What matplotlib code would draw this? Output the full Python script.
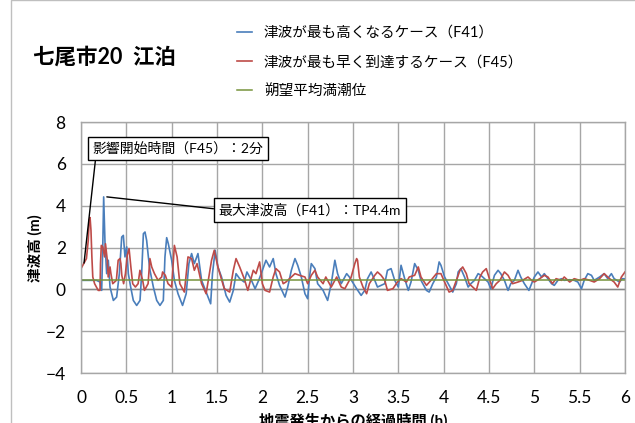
import matplotlib

matplotlib.use("Agg")

import matplotlib.pyplot as plt
import numpy as np
from matplotlib.patches import Rectangle

plt.rcParams["font.family"] = ["Lato", "Noto Sans CJK JP", "DejaVu Sans"]

# 津波が最も高くなるケース (F41): time (h), height (m)
t_f41 = [
    0.0, 0.17, 0.21, 0.228, 0.24, 0.25, 0.265, 0.283, 0.301, 0.32, 0.357, 0.393,
    0.423, 0.449, 0.467, 0.485, 0.504, 0.522, 0.548, 0.577, 0.614, 0.651, 0.669,
    0.688, 0.706, 0.724, 0.743, 0.761, 0.798, 0.835, 0.871, 0.908, 0.926, 0.945,
    0.963, 1.0, 1.03, 1.07, 1.12, 1.16, 1.19, 1.22, 1.25, 1.29, 1.33, 1.38, 1.43,
    1.45, 1.48, 1.51, 1.55, 1.6, 1.64, 1.68, 1.71, 1.75, 1.8, 1.83, 1.88, 1.92,
    1.96, 2.0, 2.04, 2.08, 2.12, 2.15, 2.19, 2.25, 2.28, 2.32, 2.36, 2.39, 2.43,
    2.47, 2.5, 2.52, 2.54, 2.58, 2.61, 2.67, 2.72, 2.76, 2.8, 2.83, 2.87, 2.93,
    2.96, 3.04, 3.09, 3.13, 3.16, 3.2, 3.24, 3.27, 3.35, 3.38, 3.42, 3.46, 3.5,
    3.53, 3.57, 3.61, 3.64, 3.68, 3.72, 3.75, 3.81, 3.84, 3.88, 3.92, 3.95, 3.97,
    4.01, 4.05, 4.1, 4.14, 4.16, 4.19, 4.23, 4.27, 4.3, 4.34, 4.38, 4.41, 4.45,
    4.49, 4.52, 4.56, 4.6, 4.63, 4.67, 4.71, 4.74, 4.78, 4.82, 4.85, 4.89, 4.94,
    5.0, 5.04, 5.08, 5.11, 5.15, 5.19, 5.22, 5.26, 5.3, 5.33, 5.39, 5.44, 5.48,
    5.52, 5.55, 5.59, 5.63, 5.66, 5.72, 5.77, 5.81, 5.85, 5.88, 5.94, 5.97, 6.0,
]
h_f41 = [
    0.43, 0.43, 0.35, -0.05, 2.0, 4.42, 2.18, 0.75, 1.39, 0.11, -0.53, -0.37,
    0.75, 2.5, 2.58, 1.55, 2.03, 0.75, 0.11, -0.53, -0.77, -0.53, 0.75,
    2.66, 2.74, 2.34, 1.55, 0.91, 0.11, -0.53, -0.77, -0.53, 1.55, 2.47,
    2.18, 1.39, 0.43, -0.21, -0.77, -0.21, 1.23, 1.71, 1.23, 1.71, 0.43, -0.13, -0.69,
    0.75, 1.87, 1.07, 0.59, -0.29, -0.61, -0.05, 0.75, 0.51, 0.35, 0.83, 0.43, 0.03,
    0.43, 0.9, 1.39, 1.07, 1.47, 0.75, 0.19, -0.37, 0.11, 0.91, 1.47, 1.15, 0.59,
    -0.21, -0.45, 0.59, 1.23, 0.99, 0.27, -0.05, -0.53, 0.27, 1.39, 0.75, 0.27, 0.75,
    0.59, 0.03, -0.29, -0.05, 0.51, 0.83, 0.43, 0.11, 0.27, 0.91, 0.99, 0.43, 0.11,
    1.15, 0.51, -0.05, 0.35, 1.23, 0.91, 0.43, -0.05, -0.13, 0.27, 0.59, 1.31, 1.15,
    0.59, 0.27, -0.13, 0.27, 0.83, 0.99, 0.59, 0.11, 0.27, 0.43, 0.75, 0.67, 0.51,
    0.35, 0.03, 0.67, 0.91, 0.75, 0.43, -0.05, 0.27, 0.43, 0.91, 0.59, 0.27, -0.05,
    0.59, 0.83, 0.59, 0.75, 0.51, 0.27, 0.19, 0.43, 0.51, 0.43, 0.46, 0.43, 0.35,
    0.03, 0.43, 0.75, 0.67, 0.43, 0.59, 0.75, 0.51, 0.75, 0.51, 0.35, 0.51, 0.5,
]

# 津波が最も早く到達するケース (F45): time (h), height (m)
t_f45 = [
    0.0, 0.02, 0.06, 0.08, 0.09, 0.1, 0.11, 0.12, 0.13, 0.15, 0.17, 0.19, 0.21,
    0.215, 0.224, 0.24, 0.26, 0.27, 0.29, 0.3, 0.32, 0.33, 0.35, 0.39, 0.41, 0.43,
    0.44, 0.45, 0.47, 0.49, 0.51, 0.53, 0.55, 0.57, 0.6, 0.63, 0.65, 0.68, 0.7,
    0.74, 0.76, 0.78, 0.81, 0.85, 0.89, 0.9, 0.93, 0.96, 1.0, 1.03, 1.06, 1.09,
    1.14, 1.18, 1.22, 1.25, 1.28, 1.33, 1.38, 1.44, 1.47, 1.51, 1.58, 1.64, 1.68,
    1.71, 1.75, 1.8, 1.84, 1.9, 1.93, 1.97, 2.0, 2.03, 2.08, 2.12, 2.15, 2.19,
    2.23, 2.26, 2.32, 2.36, 2.41, 2.47, 2.5, 2.54, 2.58, 2.61, 2.67, 2.7, 2.76,
    2.82, 2.87, 2.91, 2.96, 2.98, 3.02, 3.04, 3.05, 3.07, 3.11, 3.15, 3.18, 3.24,
    3.27, 3.31, 3.35, 3.38, 3.44, 3.49, 3.53, 3.59, 3.62, 3.68, 3.72, 3.75, 3.81,
    3.86, 3.92, 3.97, 4.01, 4.06, 4.1, 4.14, 4.18, 4.21, 4.25, 4.28, 4.32, 4.36,
    4.4, 4.43, 4.47, 4.51, 4.54, 4.58, 4.62, 4.67, 4.71, 4.76, 4.82, 4.87, 4.93,
    4.97, 5.0, 5.06, 5.11, 5.15, 5.2, 5.24, 5.3, 5.33, 5.39, 5.44, 5.5, 5.55,
    5.61, 5.66, 5.72, 5.77, 5.83, 5.88, 5.92, 5.96, 6.0,
]
h_f45 = [
    0.99, 1.15, 1.47, 2.34, 3.3, 3.43, 2.82, 1.55, 0.59, 0.27, 0.11, -0.05, -0.05,
    1.23, 2.1, 2.03, 1.55, 2.18, 1.39, 0.59, 1.07, 0.75, 0.27, 0.43, 1.39, 1.47,
    1.23, 0.67, 0.27, 0.75, 1.63, 1.95, 1.07, 0.27, 0.11, 0.27, 0.91, 0.43, -0.05,
    0.27, 1.47, 1.07, 0.75, 0.43, 0.59, 0.83, 0.67, 0.27, 0.11, 2.1, 1.55, 0.27,
    -0.13, 1.55, 1.47, 0.91, 1.23, 0.27, -0.21, 1.39, 1.87, 1.07, 0.03, -0.13, 0.91,
    1.47, 1.07, 0.51, -0.05, 0.91, 0.75, 1.31, 0.27, -0.05, -0.13, 0.59, 0.99, 0.83,
    0.27, 0.35, 0.59, 0.75, 0.67, 0.59, 0.27, 0.67, 0.91, 0.59, 0.27, 0.59, 0.11,
    0.59, 0.11, 0.03, 0.43, 0.59, 1.23, 1.47, 1.39, 0.59, 0.11, -0.21, 0.27, 0.67,
    0.83, 0.67, 0.43, -0.05, 0.03, 0.35, 0.51, 0.35, 0.59, 0.67, 1.07, 0.59, 0.19,
    0.43, 0.75, 0.75, 0.35, -0.13, -0.05, 0.43, 0.91, 1.07, 0.75, 0.27, 0.11, -0.05,
    0.59, 0.83, 0.99, 0.43, 0.03, 0.27, 0.43, 0.83, 0.67, 0.27, 0.35, 0.43, 0.59,
    0.43, 0.35, 0.51, 0.67, 0.59, 0.27, 0.51, 0.43, 0.59, 0.35, 0.51, 0.43, 0.51,
    0.43, 0.35, 0.51, 0.75, 0.51, 0.35, 0.11, 0.59, 0.83,
]

# 朔望平均満潮位 (m)
mean_high_water = 0.45

labels = [
    "津波が最も高くなるケース（F41）",
    "津波が最も早く到達するケース（F45）",
    "朔望平均満潮位",
]
x_ticks = [0, 0.5, 1, 1.5, 2, 2.5, 3, 3.5, 4, 4.5, 5, 5.5, 6]
y_ticks = [-4, -2, 0, 2, 4, 6, 8]

W, H = 635, 423


def fig_pos(x, y):
    # pixel position (from top-left) -> figure fraction
    return x / W, 1 - y / H


fig = plt.figure(figsize=(W / 100, H / 100), dpi=100)
ax = fig.add_axes([81 / W, 1 - 373 / H, 544 / W, 251 / H])

fig.patches.append(
    Rectangle(
        fig_pos(11, 600), 2, 600 / H, transform=fig.transFigure,
        fill=False, edgecolor="#BFBFBF", linewidth=1,
    )
)

(l1,) = ax.plot(t_f41, h_f41, color="#4A7EBB", lw=1.2)
(l2,) = ax.plot(t_f45, h_f45, color="#BE4B48", lw=1.2)
l3 = ax.axhline(mean_high_water, color="#77933C", lw=1.1)
ax.axhline(0, color="#868686", lw=1, zorder=1.5)

ax.set_xlim(0, 6)
ax.set_ylim(-4, 8)
ax.set_xticks(x_ticks)
ax.set_xticklabels([f"{v:g}" for v in x_ticks])
ax.set_yticks(y_ticks)
ax.tick_params(axis="both", length=0, labelsize=12.5, colors="#000000")
ax.tick_params(axis="x", pad=12)
ax.tick_params(axis="y", pad=11)
ax.grid(color="#A6A6A6", lw=1)
ax.set_axisbelow(True)
for s in ax.spines.values():
    s.set_color("#A6A6A6")
    s.set_linewidth(1)

fig.text(*fig_pos(33, 57), "七尾市20  江泊", fontsize=15.5, fontweight="bold",
         ha="left", va="center")
fig.text(*fig_pos(35, 248), "津波高 (m)", fontsize=10.5, fontweight="bold",
         rotation=90, ha="center", va="center")
fig.text(*fig_pos(353, 421), "地震発生からの経過時間 (h)", fontsize=11,
         fontweight="bold", ha="center", va="center")

fig.legend(
    [l1, l2, l3], labels, loc="upper left", bbox_to_anchor=fig_pos(237, 26),
    frameon=False, fontsize=10.5, handlelength=1.0, handletextpad=0.85,
    labelspacing=1.04, borderpad=0, borderaxespad=0,
)

box = dict(boxstyle="square,pad=0.35", fc="white", ec="black", lw=1)

start_t = 2 / 60
ax.annotate(
    "影響開始時間（F45）：2分",
    xy=(start_t, np.interp(start_t, t_f45, h_f45)), xycoords="data",
    xytext=fig_pos(178, 148.5), textcoords="figure fraction",
    ha="center", va="center", fontsize=10, bbox=box,
    arrowprops=dict(arrowstyle="-", color="black", lw=1, relpos=(0.02, 0),
                    shrinkA=0, shrinkB=0),
)

i_max = int(np.argmax(h_f41))
ax.annotate(
    f"最大津波高（F41）：TP{h_f41[i_max]:.1f}m",
    xy=(t_f41[i_max] + 0.035, h_f41[i_max]), xycoords="data",
    xytext=fig_pos(310, 210), textcoords="figure fraction",
    ha="center", va="center", fontsize=10, bbox=box,
    arrowprops=dict(arrowstyle="-", color="black", lw=1, relpos=(0, 0.55),
                    shrinkA=0, shrinkB=0),
)

fig.savefig("out.png", dpi=100)
